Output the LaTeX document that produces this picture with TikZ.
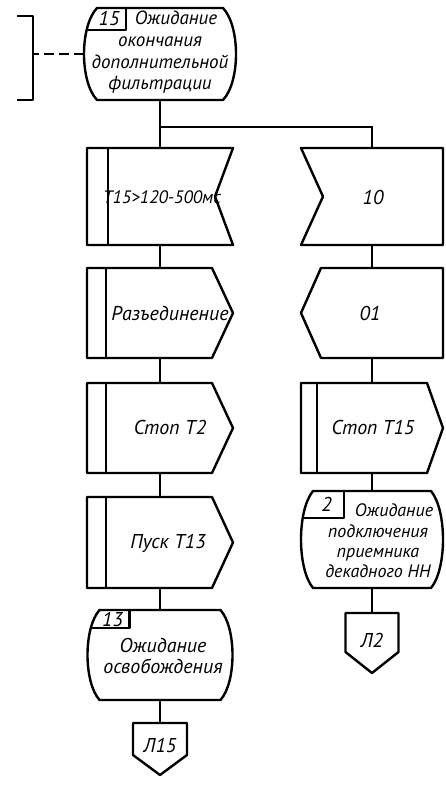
\documentclass[tikz,border=0pt]{standalone}
\usepackage{fontspec}
\setmainfont{PT Sans}
\usetikzlibrary{calc}

\tikzset{
  frame/.style 2 args={minimum width=#1*0.5pt, minimum height=#2*0.5pt, inner sep=0pt, outer sep=0pt},
  sym/.style={line width=1.2pt, line join=round},
  wire/.style={line width=1pt},
  lbl/.style={font=\fontsize{10}{10.8}\selectfont\itshape, align=center, inner sep=0pt},
  small/.style={font=\fontsize{9}{10.2}\selectfont\itshape},
}

% outlines drawn round an empty frame node
\newcommand{\notchright}[2]{\draw[sym] (#1.north west) -- (#1.north east) -- ($(#1.east)+(-#2,0)$) -- (#1.south east) -- (#1.south west) -- cycle;}
\newcommand{\notchleft}[2]{\draw[sym] (#1.north west) -- (#1.north east) -- (#1.south east) -- (#1.south west) -- ($(#1.west)+(#2,0)$) -- cycle;}
\newcommand{\tipright}[2]{\draw[sym] (#1.north west) -- ($(#1.north east)+(-#2,0)$) -- (#1.east) -- ($(#1.south east)+(-#2,0)$) -- (#1.south west) -- cycle;}
\newcommand{\tipleft}[2]{\draw[sym] ($(#1.north west)+(#2,0)$) -- (#1.north east) -- (#1.south east) -- ($(#1.south west)+(#2,0)$) -- (#1.west) -- cycle;}
\newcommand{\tipdown}[2]{\draw[sym] (#1.north west) -- (#1.north east) -- ($(#1.south east)+(0,-#2)$) -- (#1.south) -- ($(#1.south west)+(0,-#2)$) -- cycle;}
\newcommand{\sdlbar}[2]{\draw[sym] ($(#1.north west)+(#2,0)$) -- ($(#1.south west)+(#2,0)$);}
\newcommand{\sdlstate}[2]{\draw[sym] ($(#1.north west)+(#2,0)$) -- ($(#1.north east)+(-#2,0)$)
  .. controls ($(#1.north east)!.2!(#1.south east)+(#2/3,0)$) and ($(#1.north east)!.8!(#1.south east)+(#2/3,0)$) .. ($(#1.south east)+(-#2,0)$)
  -- ($(#1.south west)+(#2,0)$)
  .. controls ($(#1.north west)!.8!(#1.south west)+(-#2/3,0)$) and ($(#1.north west)!.2!(#1.south west)+(-#2/3,0)$) .. cycle;}
\newcommand{\numbox}[4]{\draw[sym] ($(#1.north west)+(#2,0)$) |- ($(#1.north west)+(2,#3)$);
  \node[lbl] (#1n) at ($(#1.north west)+(#2/2+4,#3/2)$) {#4};}

\begin{document}
\begin{tikzpicture}[x=0.5pt,y=-0.5pt]
  \useasboundingbox (0,0) rectangle (445,786);

  % frames
  \node[frame={152}{92}] (st15) at (160,54) {};
  \node[frame={146}{97}] (in1) at (160,196.5) {};
  \node[frame={142}{97}] (in2) at (372,196.5) {};
  \node[frame={146}{90}] (out1) at (160,313) {};
  \node[frame={142}{90}] (out2) at (372,313) {};
  \node[frame={146}{90}] (out3) at (160,428) {};
  \node[frame={142}{90}] (out4) at (372,428) {};
  \node[frame={146}{91}] (out5) at (160,542.5) {};
  \node[frame={142}{97}] (st2) at (372,539.5) {};
  \node[frame={145}{90}] (st13) at (160,655) {};
  \node[frame={54}{52}] (con15) at (160,749) {};
  \node[frame={53}{60}] (con2) at (372,643) {};

  % shapes
  \sdlstate{st15}{13} \numbox{st15}{42}{22}{15}
  \notchright{in1}{18} \sdlbar{in1}{21}
  \notchleft{in2}{22}
  \tipright{out1}{21} \sdlbar{out1}{19}
  \tipleft{out2}{20}
  \tipright{out3}{21} \sdlbar{out3}{19}
  \tipright{out4}{16} \sdlbar{out4}{16}
  \tipright{out5}{21} \sdlbar{out5}{19}
  \sdlstate{st2}{12} \numbox{st2}{43}{27}{2}
  \sdlstate{st13}{12} \numbox{st13}{42}{18}{13}
  \tipdown{con15}{20}
  \tipdown{con2}{21}

  % texts
  \node[lbl, font=\fontsize{9.5}{10.8}\selectfont\itshape] (st15t) at (160,52.5) {\hspace*{16pt}Ожидание\\окончания\\дополнительной\\фильтрации};
  \node[lbl, small] (in1t) at (162,197) {Т15>120-500мс};
  \node[lbl] (in2t) at (373,198) {10};
  \node[lbl] (out1t) at (170,313) {Разъединение};
  \node[lbl] (out2t) at (370,313) {01};
  \node[lbl] (out3t) at (170,427) {Стоп Т2};
  \node[lbl] (out4t) at (373,427) {Стоп Т15};
  \node[lbl] (out5t) at (168,543) {Пуск Т13};
  \node[lbl, small] (st2t) at (378,541) {\hspace*{16pt}Ожидание\\подключения\\приемника\\декадного НН};
  \node[lbl] (st13t) at (163,656) {Ожидание\\освобождения};
  \node[lbl] (con15t) at (160,745) {Л15};
  \node[lbl] (con2t) at (372,640) {Л2};

  % comment bracket
  \draw[sym] (17,16) -- (33,16) -- (33,100) -- (17,100);
  \coordinate (brk) at (33,58);
  \draw[sym, dash pattern=on 5pt off 2.5pt] (st15.west) -- (st15.west -| brk);

  % connectors
  \coordinate (split) at ($(st15.south)+(0,27)$);
  \draw[wire] (st15.south) -- (in1.north);
  \draw[wire] (split) -| (in2.north);
  \draw[wire] (in1) -- (out1);
  \draw[wire] (out1) -- (out3);
  \draw[wire] (out3) -- (out5);
  \draw[wire] (out5) -- (st13);
  \draw[wire] (st13) -- (con15);
  \draw[wire] (in2) -- (out2);
  \draw[wire] (out2) -- (out4);
  \draw[wire] (out4) -- (st2);
  \draw[wire] (st2) -- (con2);
\end{tikzpicture}
\end{document}
